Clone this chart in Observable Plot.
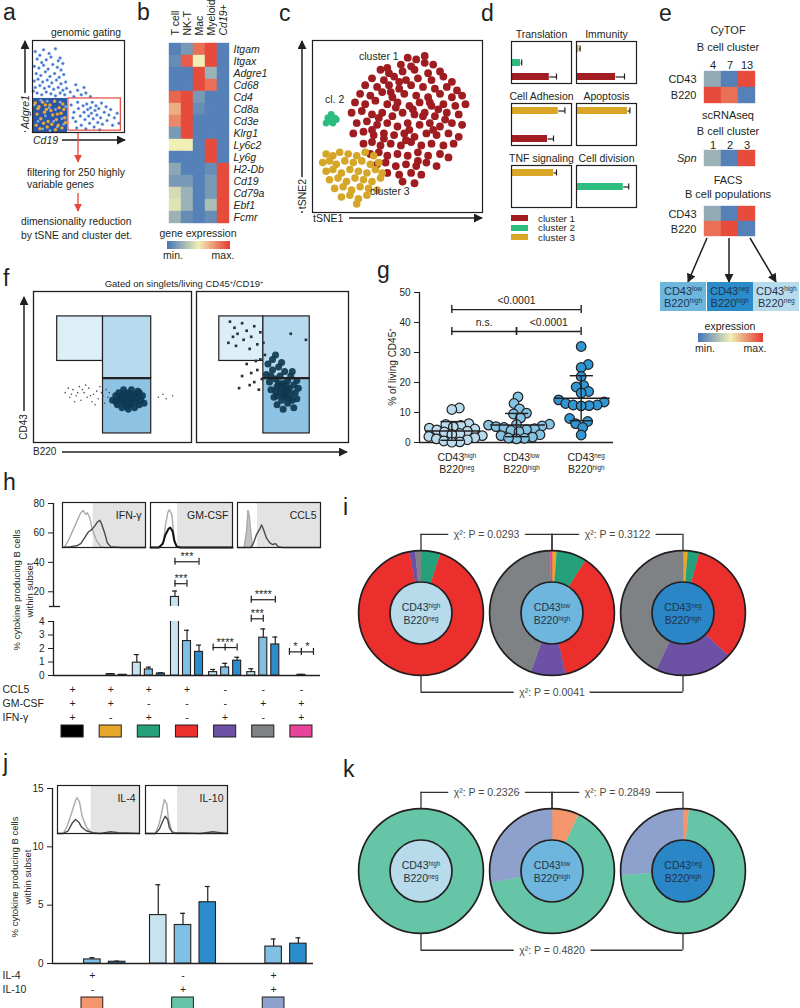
<!DOCTYPE html>
<html>
<head>
<meta charset="utf-8">
<script src="https://cdn.jsdelivr.net/npm/d3@7"></script>
<script src="https://cdn.jsdelivr.net/npm/@observablehq/plot@0.6"></script>
<style>
html,body{margin:0;padding:0;background:#fff;}
#root{position:relative;width:800px;height:1008px;overflow:hidden;background:#fff;font-family:"Liberation Sans",Arial,Helvetica,sans-serif;color:#231f20;}
#root sup{font-size:0.6em;line-height:0;vertical-align:0.6em;}
</style>
</head>
<body>
<div id="root"></div>
<script>
// ================= DATA =================
// panel a : genomic gating scatter (units 0-100)
const aDense = [[0, 38, 0, 37]];
const aGate = [[39, 96, 2, 37]];
const aBlueTop = [[3,88],[8,84],[12,90],[18,86],[25,91],[30,81],[5,80],[10,76],[15,79],[20,82],[28,78],[33,75],[2,72],[7,70],[12,73],[17,69],[22,74],[27,71],[31,68],[4,64],[9,62],[14,66],[19,61],[24,64],[29,60],[34,63],[2,56],[6,58],[11,55],[16,57],[21,54],[26,57],[31,53],[36,55],[3,49],[8,51],[13,48],[18,50],[23,47],[28,49],[33,46],[5,43],[10,41],[15,44],[20,42],[25,40],[30,43],[35,41],[1,45],[37,48],[41,44],[45,39],[49,46],[53,41],[58,43],[63,39],[47,52],[56,49]];
const aBlueGate = [[42,30],[45,22],[47,12],[49,33],[50,26],[52,18],[53,8],[55,29],[56,22],[57,14],[58,4],[59,31],[60,25],[61,18],[62,10],[63,27],[64,21],[65,33],[66,15],[67,6],[68,24],[69,29],[70,19],[71,11],[72,26],[74,16],[75,32],[76,9],[78,22],[80,28],[81,13],[83,19],[85,25],[87,8],[89,16],[92,21],[94,10],[48,5],[44,16],[73,3]];
const aOrange = [[3,32],[7,28],[11,33],[15,25],[19,30],[24,34],[29,27],[33,31],[5,20],[9,15],[13,22],[17,12],[22,19],[26,14],[31,21],[35,16],[4,8],[8,4],[12,10],[16,6],[21,9],[25,3],[28,8],[32,5],[36,11],[6,26],[20,24],[27,20],[14,30],[34,25]];
const aBlueDense = [[2,30],[9,35],[14,18],[18,27],[23,12],[30,33],[34,9],[6,12],[25,25],[11,4],[19,2],[32,15],[36,28],[27,6],[16,34]];

// panel b : heatmap
const bCols = ["T cell", "NK-T", "Mac", "Myeloid", "Cd19+"];
const bRows = ["Itgam","Itgax","Adgre1","Cd68","Cd4","Cd8a","Cd3e","Klrg1","Ly6c2","Ly6g","H2-Db","Cd19","Cd79a","Ebf1","Fcmr"];
const bValues = [
  [0.05,0.15,0.85,0.95,0.05],[0.1,0.9,0.5,0.95,0.05],[0.05,0.05,0.95,0.25,0.05],[0.05,0.05,0.95,0.85,0.05],
  [0.88,0.95,0.15,0.05,0.05],[0.68,0.95,0.1,0.05,0.05],[0.78,0.95,0.05,0.05,0.05],[0.15,0.95,0.05,0.05,0.05],
  [0.5,0.5,0.05,0.95,0.05],[0.05,0.05,0.05,0.95,0.05],[0.2,0.05,0.05,0.1,0.95],[0.15,0.15,0.05,0.15,0.95],
  [0.42,0.25,0.05,0.15,0.95],[0.45,0.25,0.05,0.3,0.95],[0.25,0.1,0.05,0.1,0.95]];

// panel c : tSNE
const c1 = [[56,90],[61,89],[66,91],[52,86],[58,85],[66,87],[71,86],[40,83],[45,81],[53,82],[60,83],[68,81],[75,82],
[35,78],[42,77],[48,79],[55,77],[62,78],[70,77],[77,79],[82,76],[31,74],[38,73],[45,74],[51,72],[58,74],[65,73],[72,72],[79,73],[85,71],
[28,69],[34,68],[41,70],[47,67],[54,69],[61,68],[68,67],[75,69],[82,67],[88,68],[25,64],[31,63],[37,65],[44,63],[50,64],[57,62],[63,64],[70,62],[77,63],[84,62],[90,63],
[23,58],[29,59],[35,57],[41,58],[47,56],[53,58],[60,57],[66,58],[72,56],[79,58],[86,57],[26,52],[32,53],[38,51],[44,52],[50,50],[56,52],[63,51],[69,52],[75,50],[82,52],[88,51],
[24,46],[30,47],[36,45],[42,46],[48,45],[54,46],[60,44],[67,46],[73,45],[80,46],[86,44],[30,40],[35,41],[40,39],[46,40],[52,39],[58,41],[64,39],[70,40],[77,39],[83,40],
[34,34],[39,35],[44,33],[50,34],[56,33],[62,35],[68,33],[75,34],[80,32],[38,28],[43,29],[49,27],[55,28],[61,27],[67,29],[73,27],[44,23],[51,22],[58,23],[64,22],[53,18],[60,17],
[46,70],[59,60],[39,55],[71,48],[55,42],[65,56],[44,84],[78,54],[35,48],[62,30],[49,61],[69,64],[57,48],[42,43],[74,60],[51,76]];
const c2 = [[9,55],[11,57],[13,55],[10,53],[12,52],[14,54],[8,52]];
const c3 = [[8,34],[12,33],[16,35],[21,34],[26,33],[31,35],[36,33],[6,29],[10,30],[14,28],[19,30],[24,29],[29,30],[34,28],[39,29],
[8,24],[12,25],[17,23],[22,25],[27,24],[32,23],[37,25],[41,23],[10,19],[15,20],[20,18],[25,20],[30,19],[35,18],[40,20],
[13,14],[18,15],[23,13],[28,15],[33,14],[38,13],[17,9],[22,10],[27,8],[32,10],[26,5]];

// panel d : enriched processes
const dProc = ["Translation","Immunity","Cell Adhesion","Apoptosis","TNF signaling","Cell division"];
const dClusters = ["cluster 3","cluster 2","cluster 1"];
const dClusterColors = {"cluster 1": "#a11d22", "cluster 2": "#2dbd7e", "cluster 3": "#d9a626"};
const dBarProcess = ["Translation","Translation","Immunity","Immunity","Cell Adhesion","Cell Adhesion","Apoptosis","TNF signaling","Cell division"];
const dBarCluster = ["cluster 2","cluster 1","cluster 3","cluster 1","cluster 3","cluster 1","cluster 3","cluster 3","cluster 2"];
const dBarValue = [0.15,0.63,0.04,0.65,0.78,0.6,0.85,0.7,0.78];
const dBarError = [0.02,0.12,0.02,0.15,0.11,0.1,0.04,0.05,0.09];

// panel e
const eCyCols = ["4","7","13"];
const eMarkers = ["CD43","B220"];
const eCyValues = [[0.22,0.05,0.95],[0.95,0.85,0.05]];
const eScCols = ["1","2","3"];
const eScValues = [[0.25,0.05,0.95]];
const eFacsCols = ["low","neg","high"];
const eFacsValues = [[0.22,0.05,0.95],[0.85,0.95,0.05]];
const eBoxLabels = ["CD43<sup>low</sup><br>B220<sup>high</sup>","CD43<sup>neg</sup><br>B220<sup>high</sup>","CD43<sup>high</sup><br>B220<sup>neg</sup>"];
const eBoxColors = ["#6db6de","#2a8ccb","#b7dbeb"];

// panel f : flow gates (units 0-100)
const fGateX1 = [15, 44, 44], fGateX2 = [44, 74.5, 74.5];
const fGateY1 = [54, 42.5, 6], fGateY2 = [83.5, 83.5, 42.5];
const fGateFill = ["#ddeef7", "#b7daee", "#8fc3e3"];
const fLeftCore = [[50,28],[52,31],[53,25],[54,33],[55,28],[56,23],[56,31],[57,35],[58,27],[58,30],[59,24],[60,33],[60,28],[61,31],[62,26],[62,35],[63,29],[64,23],[64,32],[65,27],[66,30],[67,25],[67,33],[68,28],[69,31],[70,26],[54,29],[57,32],[59,28],[61,25],[63,31],[65,29],[52,27],[66,34],[60,22],[57,26]];
const fLeftSparse = [[20,33],[23,30],[25,35],[27,31],[29,37],[30,28],[32,33],[34,30],[35,36],[37,27],[38,32],[40,34],[41,29],[42,37],[44,31],[45,26],[46,35],[47,30],[48,33],[26,27],[33,38],[39,25],[43,33],[36,31],[31,35],[28,33],[22,36],[24,32],[79,30],[82,32],[84,29],[88,31]];
const fRightCore = [[46,45],[48,40],[49,35],[50,48],[51,30],[52,42],[53,37],[53,25],[54,50],[55,33],[55,44],[56,28],[57,39],[57,22],[58,35],[58,47],[59,30],[60,41],[60,26],[61,36],[62,32],[62,44],[63,28],[64,38],[64,23],[65,33],[66,41],[66,29],[67,36],[52,34],[54,39],[56,36],[58,32],[59,38],[61,29],[57,31],[53,31],[55,38],[60,34],[47,52],[50,55],[52,58],[56,53],[49,44],[63,47]];
const fRightSparse = [[22,80],[25,76],[27,72],[30,79],[33,74],[36,70],[38,77],[42,73],[21,66],[26,64],[31,68],[35,62],[40,65],[24,70],[44,66],[62,72],[72,68],[33,52],[36,46],[38,40],[40,48],[42,55],[30,44],[28,36],[35,38],[39,54],[43,42],[45,58],[41,35]];

// panel g : % of living CD45+
const gCategories = ["CD43^{high}\nB220^{neg}", "CD43^{low}\nB220^{high}", "CD43^{neg}\nB220^{high}"];
const gFills = ["#b9dcec", "#84c3e4", "#2f97d3"];
const gHigh = [11.5,11,6.3,6,5.7,5.2,4.8,4.5,4.2,3.8,3.5,3,2.7,2.3,2,1.6,1.2,0.9,0.5,0.2,0.1];
const gLow = [15.2,13,11.2,9.8,9.5,8.2,6.1,6,5.8,5.5,5.3,5,4.6,4.3,4,3.6,2.6,2.3,1.8,1.4,1.2,1.5];
const gNeg = [32,26,25,22,19,18.5,17,16.5,14.2,13.5,13,12.5,12.5,12.3,12.2,8,7,6.3,5,2.5];
const gBrackets = [{a:0,b:2,y:44.3,label:"<0.0001"},{a:0,b:1,y:37,label:"n.s."},{a:1,b:2,y:37,label:"<0.0001"}];

// panel h : cytokine combinations
const subsetFills = ["#c6e3f0", "#7fc0e4", "#2b8dcb"];
const hCCL5  = ["+","+","+","+","-","-","-"];
const hGMCSF = ["+","+","-","-","-","+","+"];
const hIFNG  = ["+","-","+","-","+","-","+"];
const hColors = ["#000000","#e6a72b","#24a07a","#ea2f2d","#6d51a5","#7f8285","#e9449c"];
const hMeans = [[0,0,0],[0,0.1,0.05],[0.95,0.45,0.15],[16.5,2.55,1.75],[0.25,0.6,1.1],[0.25,2.8,2.3],[0,0.05,0]];
const hErr = [[0,0,0],[0,0.04,0.02],[0.6,0.17,0.05],[4,0.8,0.5],[0.2,0.3,0.25],[0.25,0.65,0.55],[0,0.03,0]];
const hSig = [
  {g:3,a:0,b:1,v:25.5,label:"***",seg:"top"},
  {g:3,a:0,b:2,v:40.4,label:"***",seg:"top"},
  {g:5,a:0,b:2,v:14.6,label:"****",seg:"top"},
  {g:5,a:0,b:1,v:4.2,label:"***",seg:"low"},
  {g:4,a:0,b:2,v:2.07,label:"****",seg:"low",mid:true},
  {g:6,a:0,b:1,v:1.75,label:"*",seg:"low"},
  {g:6,a:1,b:2,v:1.75,label:"*",seg:"low"}];
const hIfnGray = [[2,0],[7,16],[12,38],[17,60],[22,82],[25,87],[28,78],[30,82],[33,69],[36,42],[41,16],[46,2],[51,0],[100,0]];
const hIfnDark = [[0,0],[10,2],[17,4],[22,9],[27,24],[31,36],[35,42],[39,51],[42,60],[45,64],[47,56],[51,33],[54,11],[58,2],[70,0],[100,0]];
const hGmGray = [[0,0],[12,0],[16,16],[18,49],[21,82],[23,89],[26,78],[28,38],[30,9],[34,0],[100,0]];
const hGmDark = [[0,0],[10,0],[15,9],[18,29],[22,44],[24,47],[27,38],[29,16],[32,2],[37,0],[100,0]];
const hCclGray = [[8,0],[11,38],[12.6,87],[14,78],[16,38],[18,0]];
const hCclDark = [[0,0],[16,0],[19,9],[23,31],[27,44],[29,53],[31,44],[35,22],[39,11],[42,7],[46,9],[49,2],[54,0],[100,0]];

// panel i : proportions of combinations per subset
const iFractions = [[0,0,0.05,0.92,0.015,0.015,0],[0,0.012,0.078,0.375,0.09,0.44,0.005],[0,0.012,0.03,0.328,0.2,0.43,0]];
const subsetLabels = ["CD43^{high}\nB220^{neg}","CD43^{low}\nB220^{high}","CD43^{neg}\nB220^{high}"];
const subsetInner = ["#b7dbea","#6fb6de","#2a86c6"];
const iBrackets = [{a:0,b:1,side:"top",label:"χ²: P = 0.0293"},{a:1,b:2,side:"top",label:"χ²: P = 0.3122"},{a:0,b:2,side:"bottom",label:"χ²: P = 0.0041"}];

// panel j : IL-4 / IL-10
const jIL4 = ["+","-","+"];
const jIL10 = ["-","+","+"];
const jColors = ["#f4956b","#66c5a6","#8da1cc"];
const jMeans = [[0,0.35,0.15],[4.15,3.3,5.25],[0,1.45,1.7]];
const jErr = [[0,0.15,0.05],[2.6,1.0,1.35],[0,0.65,0.5]];
const jIl4Gray = [[0,0],[7,0],[12,17],[17,44],[22,73],[24,79],[27,69],[30,38],[35,15],[40,4],[46,0],[100,0]];
const jIl4Dark = [[0,0],[7,0],[13,6],[18,23],[22,31],[26,25],[29,15],[35,6],[43,2],[52,0],[65,4],[74,2],[100,0]];
const jIl10Gray = [[0,0],[12,0],[17,23],[21,58],[23,75],[26,65],[28,31],[32,6],[37,0],[100,0]];
const jIl10Dark = [[0,0],[12,0],[17,10],[21,27],[24,38],[27,31],[29,13],[33,2],[67,0],[82,4],[91,2],[100,0]];

// panel k
const kFractions = [[0,1,0],[0.07,0.65,0.28],[0.015,0.725,0.26]];
const kBrackets = [{a:0,b:1,side:"top",label:"χ²: P = 0.2326"},{a:1,b:2,side:"top",label:"χ²: P = 0.2849"},{a:0,b:2,side:"bottom",label:"χ²: P = 0.4820"}];

// ================= HELPERS =================
const INK = "#231f20";
const FONT = '"Liberation Sans", Arial, Helvetica, sans-serif';
const root = document.getElementById("root");
const HEAT = {type: "linear", domain: [0, 0.5, 1], range: ["#4575b8", "#f1efb5", "#e5392e"]};
const GRAD = "linear-gradient(to right,#4575b8,#f1efb5,#e5392e)";

function supify(node) {
  if (!node.querySelectorAll) return;
  node.querySelectorAll("text, tspan").forEach(el => {
    if (el.children.length) return;
    const s = el.textContent;
    if (!s.includes("^{")) return;
    el.textContent = "";
    const re = /\^\{([^}]*)\}/g; let last = 0, m;
    while ((m = re.exec(s))) {
      if (m.index > last) el.appendChild(document.createTextNode(s.slice(last, m.index)));
      const t = document.createElementNS("http://www.w3.org/2000/svg", "tspan");
      t.setAttribute("font-size", "0.6em");
      t.setAttribute("baseline-shift", "super");
      t.textContent = m[1];
      el.appendChild(t);
      last = re.lastIndex;
    }
    if (last < s.length) el.appendChild(document.createTextNode(s.slice(last)));
  });
}
function italicize(node, names) {
  const set = new Set(names);
  node.querySelectorAll("text").forEach(t => { if (set.has(t.textContent.trim())) t.setAttribute("font-style", "italic"); });
}
function put(node, left, top) {
  node.style.position = "absolute"; node.style.left = left + "px"; node.style.top = top + "px";
  root.appendChild(node); supify(node); return node;
}
function P(o) {
  const {fs = 10, ...rest} = o;
  return Plot.plot({...rest, style: {fontFamily: FONT, fontSize: fs + "px", color: INK, background: "transparent", overflow: "visible", maxWidth: "none"}});
}
function lab(html, x, y, o = {}) {
  const size = o.size ?? 10;
  const d = document.createElement("div");
  d.innerHTML = html;
  const ax = o.anchor === "middle" ? "-50%" : o.anchor === "end" ? "-100%" : "0";
  const ay = o.rotate ? "-50%" : "-0.846em";
  Object.assign(d.style, {position: "absolute", left: x + "px", top: y + "px", fontSize: size + "px", lineHeight: "1",
    whiteSpace: "nowrap", transformOrigin: "0 0", transform: `rotate(${o.rotate || 0}deg) translate(${ax}, ${ay})`,
    fontStyle: o.italic ? "italic" : "normal", color: o.color || INK, background: o.bg || "transparent",
    padding: o.bg ? "1px 2px" : "0"});
  root.appendChild(d);
  return d;
}
function box(x, y, w, h, css) {
  const d = document.createElement("div");
  Object.assign(d.style, {position: "absolute", left: x + "px", top: y + "px", width: w + "px", height: h + "px"}, css);
  root.appendChild(d); return d;
}
const px = d => d[0], py = d => d[1];

// ================= DECORATION ARROWS =================
const arrowsBlack = [[25,132,25,41],[62,140,125,140],[302,213,302,41],[349,218,482,218],[707,238,688,282],[729,238,729,282],[750,238,776,282],[24,411,24,297],[62,452,347,452]];
const arrowsRed = [[78,132,78,162],[78,193,78,211]];
root.insertAdjacentHTML("beforeend", `<svg xmlns="http://www.w3.org/2000/svg" width="800" height="1008" style="position:absolute;left:0;top:0">
<defs>
<marker id="ak" viewBox="0 0 10 10" refX="9" refY="5" markerWidth="6.5" markerHeight="6" orient="auto"><path d="M0,0L10,5L0,10Z" fill="${INK}"/></marker>
<marker id="ar" viewBox="0 0 10 10" refX="9" refY="5" markerWidth="6" markerHeight="6" orient="auto"><path d="M0,0L10,5L0,10Z" fill="#e8453c"/></marker>
</defs>
${arrowsBlack.map(a => `<line x1="${a[0]}" y1="${a[1]}" x2="${a[2]}" y2="${a[3]}" stroke="${INK}" stroke-width="1.5" marker-end="url(#ak)"/>`).join("")}
${arrowsRed.map(a => `<line x1="${a[0]}" y1="${a[1]}" x2="${a[2]}" y2="${a[3]}" stroke="#e8453c" stroke-width="1.3" marker-end="url(#ar)"/>`).join("")}
</svg>`);

// ================= PANEL a =================
put(P({
  width: 92, height: 92, margin: 0,
  x: {domain: [0, 100], axis: null}, y: {domain: [0, 100], axis: null},
  marks: [
    Plot.rect(aDense, {x1: d => d[0], x2: d => d[1], y1: d => d[2], y2: d => d[3], fill: "#2a56a5"}),
    Plot.dot(aBlueDense, {x: px, y: py, r: 1.4, fill: "#86abe2"}),
    Plot.dot(aOrange, {x: px, y: py, r: 1.7, fill: "#eaa63a"}),
    Plot.dot(aBlueTop.concat(aBlueGate), {x: px, y: py, r: 1.5, fill: "#3f72c8", stroke: "#a6c4ee", strokeWidth: 0.5}),
    Plot.rect(aGate, {x1: d => d[0], x2: d => d[1], y1: d => d[2], y2: d => d[3], fill: "none", stroke: "#e2483d", strokeWidth: 1.2}),
    Plot.frame({stroke: INK, strokeWidth: 1.2})
  ]
}), 32, 40);

// ================= PANEL b =================
const bData = bRows.flatMap((r, i) => bCols.map((c, j) => ({row: r, col: c, v: bValues[i][j]})));
const bPlot = put(P({
  fs: 10.5,
  width: 63 + 45, height: 39 + 188, marginTop: 39, marginLeft: 0, marginRight: 45, marginBottom: 0,
  x: {domain: bCols, padding: 0, axis: "top", tickSize: 0, tickRotate: -90, tickPadding: 4, label: null},
  y: {domain: bRows, padding: 0, axis: "right", tickSize: 0, tickPadding: 3, label: null},
  color: HEAT,
  marks: [Plot.cell(bData, {x: "col", y: "row", fill: "v", stroke: "v", strokeWidth: 0.4})]
}), 167, 0);
italicize(bPlot, bRows.concat(["Cd19+"]));

// ================= PANEL c =================
put(P({
  width: 170, height: 172, margin: 0,
  x: {domain: [0, 100], axis: null}, y: {domain: [0, 100], axis: null},
  marks: [
    Plot.dot(c1, {x: px, y: py, r: 3.9, fill: "#9f1c21"}),
    Plot.dot(c2, {x: px, y: py, r: 3.4, fill: "#2dbd7e"}),
    Plot.dot(c3, {x: px, y: py, r: 3.8, fill: "#d6a628"}),
    Plot.frame({stroke: INK, strokeWidth: 1.2})
  ]
}), 312, 40);

// ================= PANEL d =================
const dBars = dBarProcess.map((p, i) => ({process: p, cluster: dBarCluster[i], value: dBarValue[i], err: dBarError[i] + dBarValue[i]}));
const fxOf = d => dProc.indexOf(d.process ?? d) % 2;
const fyOf = d => Math.floor(dProc.indexOf(d.process ?? d) / 2);
put(P({
  width: 125, height: 167, margin: 0,
  fx: {domain: [0, 1], paddingInner: 0.077, paddingOuter: 0, axis: null},
  fy: {domain: [0, 1, 2], paddingInner: 0.328, paddingOuter: 0, axis: null},
  x: {domain: [0, 1], axis: null},
  y: {domain: dClusters, paddingInner: 0.5, paddingOuter: 0.25, axis: null},
  marks: [
    Plot.barX(dBars, {fx: fxOf, fy: fyOf, y: "cluster", x1: 0, x2: "value", fill: d => dClusterColors[d.cluster]}),
    Plot.link(dBars, {fx: fxOf, fy: fyOf, x1: "value", x2: "err", y1: "cluster", y2: "cluster", stroke: INK, strokeWidth: 1.2}),
    Plot.tickX(dBars, {fx: fxOf, fy: fyOf, x: "err", y: "cluster", stroke: INK, strokeWidth: 1.2, insetTop: 0.5, insetBottom: 0.5}),
    Plot.text(dProc, {fx: fxOf, fy: fyOf, text: d => d, frameAnchor: "top", lineAnchor: "bottom", dy: -4, fontSize: 10.5}),
    Plot.frame({stroke: INK, strokeWidth: 1.2})
  ]
}), 511, 40);
["cluster 1", "cluster 2", "cluster 3"].forEach((c, i) => {
  box(511, 215 + i * 9.5, 17, 6, {background: dClusterColors[c]});
  lab(c, 538, 221.5 + i * 9.5, {size: 9.8});
});

// ================= PANEL e =================
function heat(cols, rows, values, w, h, showCols, italicRows) {
  const data = rows.flatMap((r, i) => cols.map((c, j) => ({r, c, v: values[i][j]})));
  const p = P({
    fs: 11,
    width: 40 + w, height: 12 + h, marginLeft: 40, marginTop: 12, marginRight: 0, marginBottom: 0,
    x: {domain: cols, padding: 0, axis: showCols ? "top" : null, tickSize: 0, tickPadding: 2, label: null},
    y: {domain: rows, padding: 0, axis: "left", tickSize: 0, tickPadding: 8, label: null},
    color: HEAT,
    marks: [Plot.cell(data, {x: "c", y: "r", fill: "v", stroke: "v", strokeWidth: 0.4})]
  });
  if (italicRows) italicize(p, rows);
  return p;
}
put(heat(eCyCols, eMarkers, eCyValues, 51, 33, true, false), 664, 58);
put(heat(eScCols, ["Spn"], eScValues, 51, 16, true, true), 664, 138);
put(heat(eFacsCols, eMarkers, eFacsValues, 51, 31, false, false), 664, 193);
lab("CyTOF", 728, 34, {anchor: "middle", size: 11});
lab("B cell cluster", 728, 51, {anchor: "middle", size: 11});
lab("scRNAseq", 728, 119, {anchor: "middle", size: 11});
lab("B cell cluster", 728, 135, {anchor: "middle", size: 11});
lab("FACS", 728, 184, {anchor: "middle", size: 11});
lab("B cell populations", 728, 198, {anchor: "middle", size: 11});
eBoxLabels.forEach((t, i) => {
  const b = box(660 + i * 46.7, 282, 46, 29, {background: eBoxColors[i], fontSize: "11px", lineHeight: "12px", textAlign: "center", color: "#1f3550", paddingTop: "3px", boxSizing: "border-box"});
  b.innerHTML = t;
});
lab("expression", 730, 330, {anchor: "middle", size: 10.5});
box(698, 333, 65, 9, {background: GRAD});
lab("min.", 705, 352, {anchor: "middle", size: 10.5});
lab("max.", 755, 352, {anchor: "middle", size: 10.5});

// ================= PANEL f =================
function fPlot(w, core, sparse, coreStyle, sparseStyle) {
  const gi = d3.range(fGateFill.length);
  return P({
    width: w, height: 151, margin: 0,
    x: {domain: [0, 100], axis: null}, y: {domain: [0, 100], axis: null},
    marks: [
      Plot.rect(gi, {x1: i => fGateX1[i], x2: i => fGateX2[i], y1: i => fGateY1[i], y2: i => fGateY2[i], fill: i => fGateFill[i], stroke: INK, strokeWidth: 1.2}),
      Plot.dot(sparse, {x: px, y: py, ...sparseStyle}),
      Plot.dot(core, {x: px, y: py, ...coreStyle}),
      Plot.ruleY([fGateY2[2]], {x1: fGateX1[2], x2: fGateX2[2], stroke: INK, strokeWidth: 2}),
      Plot.frame({stroke: INK, strokeWidth: 1.3})
    ]
  });
}
put(fPlot(158, fLeftCore, fLeftSparse, {r: 3.4, fill: "#0d3a54", fillOpacity: 0.92}, {r: 0.8, fill: "#4a5560"}), 33, 291);
put(fPlot(152, fRightCore, fRightSparse, {r: 3.5, fill: "#10394f", fillOpacity: 0.92}, {r: 1.5, symbol: "square", fill: "#26323c"}), 196, 291);
lab("Gated on singlets/living CD45<sup>+</sup>/CD19<sup>+</sup>", 184, 287, {anchor: "middle", size: 9.5});

// ================= PANEL g =================
function swarm(vals, minDist, pxPerUnit) {
  const order = vals.map((v, i) => i).sort((a, b) => vals[a] - vals[b]);
  const placed = [], off = [];
  for (const i of order) {
    const y = vals[i] * pxPerUnit;
    for (let k = 0; k < 600; k++) {
      const c = k === 0 ? 0 : (k % 2 ? 1 : -1) * Math.ceil(k / 2) * 0.5;
      if (placed.every(p => (p[0] - c) ** 2 + (p[1] - y) ** 2 >= minDist ** 2)) { placed.push([c, y]); off[i] = c; break; }
    }
  }
  return off;
}
const gGroups = [gHigh, gLow, gNeg];
const gPxPerX = 194 / 3;
const gPoints = gGroups.flatMap((vals, gi) => { const off = swarm(vals, 7.6, 3); return vals.map((v, j) => ({x: gi + off[j] / gPxPerX, y: v, gi})); });
const gStats = gGroups.map((vals, i) => { const m = d3.mean(vals), s = d3.deviation(vals); return {i, mean: m, lo: Math.max(0, m - s), hi: m + s}; });
const gEnds = gBrackets.flatMap(b => [{x: b.a, y: b.y}, {x: b.b, y: b.y}]);
put(P({
  width: 39 + 194 + 10, height: 10 + 150 + 45, marginLeft: 39, marginRight: 10, marginTop: 10, marginBottom: 45,
  x: {domain: [-0.5, 2.5], axis: null},
  y: {domain: [0, 50], ticks: [0, 10, 20, 30, 40, 50], tickSize: 5, tickFormat: "d", label: null},
  marks: [
    Plot.ruleX([-0.5], {strokeWidth: 1.3}),
    Plot.ruleY([0], {strokeWidth: 1.3}),
    Plot.dot(gPoints, {x: "x", y: "y", r: 4.8, fill: d => gFills[d.gi], stroke: INK, strokeWidth: 1.2}),
    Plot.ruleY(gStats, {x1: d => d.i - 0.4, x2: d => d.i + 0.45, y: "mean", strokeWidth: 1.6}),
    Plot.ruleX(gStats, {x: "i", y1: "lo", y2: "hi", strokeWidth: 1.4}),
    Plot.ruleY(gStats, {x1: d => d.i - 0.17, x2: d => d.i + 0.19, y: "hi", strokeWidth: 1.4}),
    Plot.ruleY(gStats, {x1: d => d.i - 0.17, x2: d => d.i + 0.19, y: "lo", strokeWidth: 1.4}),
    Plot.ruleY(gBrackets, {x1: "a", x2: "b", y: "y", strokeWidth: 1.4}),
    Plot.ruleX(gEnds, {x: "x", y1: "y", y2: "y", insetTop: -4, insetBottom: -4, strokeWidth: 1.4}),
    Plot.text(gBrackets, {x: d => (d.a + d.b) / 2, y: "y", text: "label", dy: -9, fontSize: 10.5}),
    Plot.text(gCategories, {x: (d, i) => i, y: () => 0, text: d => d, dy: 21, dx: 5, fontSize: 10.5, lineHeight: 1.15})
  ]
}), 380, 282);
lab("% of living CD45<sup>+</sup>", 393, 367, {rotate: -90, anchor: "middle", size: 10});

// ================= PANEL h =================
const hBars = [];
hMeans.forEach((row, g) => row.forEach((v, s) => hBars.push({g, s, v, e: hErr[g][s], cx: g + (s - 1) * 0.315})));
const HW = 0.105;
const hX = {domain: [-0.5, 6.5], axis: null};
function sigMarks(list) {
  const segs = list.map(d => ({...d, xa: d.g + (d.a - 1) * 0.315, xb: d.g + (d.b - 1) * 0.315}));
  const ends = segs.flatMap(d => [{x: d.xa, v: d.v}, {x: d.xb, v: d.v}].concat(d.mid ? [{x: (d.xa + d.xb) / 2, v: d.v}] : []));
  return [
    Plot.ruleY(segs, {x1: "xa", x2: "xb", y: "v", strokeWidth: 1.2}),
    Plot.ruleX(ends, {x: "x", y1: "v", y2: "v", insetTop: -3.5, insetBottom: -3.5, strokeWidth: 1.2}),
    Plot.text(segs, {x: d => (d.xa + d.xb) / 2, y: "v", text: "label", dy: -5, fontSize: 11})
  ];
}
function barMarks(bars, hw, lo, hi, clampTop, clampBottom) {
  const vis = bars.filter(d => d.v > 0 && d.v > lo);
  const errs = bars.filter(d => d.e > 0 && d.v > lo && d.v <= hi);
  return [
    Plot.rectY(vis, {x1: d => d.cx - hw, x2: d => d.cx + hw, y1: clampBottom, y2: d => Math.min(d.v, clampTop), fill: d => subsetFills[d.s], stroke: INK, strokeWidth: 1.1, clip: true}),
    Plot.ruleX(errs, {x: "cx", y1: "v", y2: d => d.v + d.e, strokeWidth: 1.2}),
    Plot.ruleY(errs, {x1: "cx", x2: "cx", y: d => d.v + d.e, insetLeft: -2.5, insetRight: -2.5, strokeWidth: 1.2})
  ];
}
put(P({
  width: 320, height: 108, marginLeft: 53, marginRight: 0, marginTop: 5, marginBottom: 0,
  x: hX, y: {domain: [10, 80], ticks: [20, 40, 60, 80], tickSize: 5, tickFormat: "d", label: null},
  marks: [
    Plot.ruleX([-0.5], {strokeWidth: 1.3}),
    Plot.ruleY([10], {x1: -0.5, x2: -0.5, insetLeft: -4, insetRight: -7, strokeWidth: 1.3}),
    ...barMarks(hBars, HW, 10, 1000, 1000, 9),
    ...sigMarks(hSig.filter(d => d.seg === "top"))
  ]
}), 0, 498);
put(P({
  width: 320, height: 59, marginLeft: 53, marginRight: 0, marginTop: 5, marginBottom: 0,
  x: hX, y: {domain: [0, 4], ticks: [0, 1, 2, 3, 4], tickSize: 5, tickFormat: "d", label: null},
  marks: [
    Plot.ruleX([-0.5], {strokeWidth: 1.3}),
    Plot.ruleY([0], {strokeWidth: 1.3}),
    ...barMarks(hBars, HW, -1, 4, 4.6, 0),
    ...sigMarks(hSig.filter(d => d.seg === "low"))
  ]
}), 0, 616);
const hRows = ["CCL5", "GM-CSF", "IFN-γ"];
const hSigns = hColors.flatMap((c, g) => [{g, row: "CCL5", t: hCCL5[g]}, {g, row: "GM-CSF", t: hGMCSF[g]}, {g, row: "IFN-γ", t: hIFNG[g]}]);
put(P({
  width: 320, height: 56, marginLeft: 53, marginRight: 0, marginTop: 0, marginBottom: 0,
  x: hX, y: {domain: [...hRows, "swatch"], padding: 0, axis: null},
  marks: [
    Plot.text(hRows, {y: d => d, frameAnchor: "left", dx: -51, textAnchor: "start", fontSize: 10.5}),
    Plot.text(hSigns, {x: "g", y: "row", text: "t", fontSize: 10.5}),
    Plot.barX(d3.range(hColors.length), {x1: d => d - 0.29, x2: d => d + 0.29, y: () => "swatch", fill: d => hColors[d], stroke: INK, strokeWidth: 1, insetTop: 1, insetBottom: 1})
  ]
}), 0, 682);
function inset(w, h, gateStart, gray, dark, name, opts = {}) {
  return P({
    width: w, height: h, margin: 0,
    x: {domain: [0, 100], axis: null}, y: {domain: [0, 106], axis: null},
    marks: [
      Plot.rect([gateStart], {x1: d => d, x2: () => 100, y1: () => 0, y2: () => 106, fill: "#e3e3e3"}),
      opts.grayFill ? Plot.areaY(gray, {x: px, y: py, fill: "#c4c4c4"}) : null,
      Plot.line(gray, {x: px, y: py, stroke: "#aaaaaa", strokeWidth: 1.4}),
      Plot.line(dark, {x: px, y: py, stroke: opts.darkColor || "#4a4a4a", strokeWidth: opts.darkWidth || 1.4}),
      Plot.text([name], {frameAnchor: "top-right", dx: -4, dy: 9, text: d => d, fontSize: 10.5}),
      Plot.frame({stroke: INK, strokeWidth: 1.2})
    ]
  });
}
put(inset(83, 45, 37, hIfnGray, hIfnDark, "IFN-γ"), 62, 502);
put(inset(82, 45, 33, hGmGray, hGmDark, "GM-CSF", {darkColor: "#111", darkWidth: 2}), 150, 502);
put(inset(83, 45, 24, hCclGray, hCclDark, "CCL5", {grayFill: true}), 237, 502);
lab("% cytokine producing B cells", 17, 590, {rotate: -90, anchor: "middle", size: 9.5});
lab("within subset", 30, 590, {rotate: -90, anchor: "middle", size: 9.5});

// ================= DONUTS (i, k) =================
function donut(fracs, colors, brackets) {
  const S = 2.1, R1 = 1, R0 = 0.45;
  const pts = [];
  fracs.forEach((fr, d) => {
    const tot = d3.sum(fr); let acc = 0;
    fr.forEach((f, k) => {
      if (f <= 0) return;
      const t0 = acc / tot, t1 = (acc + f) / tot; acc += f;
      const n = Math.max(2, Math.ceil((t1 - t0) * 180));
      const key = d + "-" + k;
      for (let j = 0; j <= n; j++) { const a = 2 * Math.PI * (t0 + (t1 - t0) * j / n); pts.push({key, c: colors[k], x: d * S + R1 * Math.sin(a), y: R1 * Math.cos(a)}); }
      for (let j = n; j >= 0; j--) { const a = 2 * Math.PI * (t0 + (t1 - t0) * j / n); pts.push({key, c: colors[k], x: d * S + R0 * Math.sin(a), y: R0 * Math.cos(a)}); }
    });
  });
  const centers = subsetLabels.map((l, d) => ({x: d * S, y: 0, label: l, fill: subsetInner[d]}));
  const br = brackets.map(b => ({...b, xa: b.a * S, xb: b.b * S, yb: b.side === "top" ? 1.26 : -1.27, y0: b.side === "top" ? 1 : -1}));
  const ends = br.flatMap(b => [{x: b.xa, y0: b.y0, yb: b.yb}, {x: b.xb, y0: b.y0, yb: b.yb}]);
  return P({
    width: 393, height: 181, margin: 0,
    x: {domain: [-1.05, 5.25], axis: null}, y: {domain: [-1.45, 1.45], axis: null},
    marks: [
      Plot.line(pts, {x: "x", y: "y", z: "key", fill: "c", stroke: "c", strokeWidth: 0.6}),
      Plot.dot(centers, {x: "x", y: "y", r: 62.4, fill: "none", stroke: INK, strokeWidth: 1.7}),
      Plot.dot(centers, {x: "x", y: "y", r: 31, fill: "fill", stroke: INK, strokeWidth: 1.7}),
      Plot.text(centers, {x: "x", y: "y", text: "label", fontSize: 10.5, lineHeight: 1.25, fill: "#223446"}),
      Plot.ruleX(ends, {x: "x", y1: "y0", y2: "yb", strokeWidth: 1.3, stroke: "#333"}),
      Plot.ruleY(br, {x1: "xa", x2: "xb", y: "yb", strokeWidth: 1.3, stroke: "#333"}),
      Plot.text(br, {x: d => (d.xa + d.xb) / 2, y: "yb", text: "label", fontSize: 10.5, fill: "#4a4a4a", stroke: "white", strokeWidth: 12})
    ]
  });
}
put(donut(iFractions, hColors, iBrackets), 354.5, 521.5);
put(donut(kFractions, jColors, kBrackets), 354.5, 779.5);

// ================= PANEL j =================
const jBars = [];
jMeans.forEach((row, g) => row.forEach((v, s) => jBars.push({g, s, v, e: jErr[g][s], cx: g + (s - 1) * 0.273})));
const jX = {domain: [-0.44, 2.44], axis: null};
put(P({
  width: 313, height: 180, marginLeft: 52, marginRight: 0, marginTop: 5, marginBottom: 0,
  x: jX, y: {domain: [0, 15], ticks: [0, 5, 10, 15], tickSize: 5, tickFormat: "d", label: null},
  marks: [
    Plot.ruleX([-0.44], {strokeWidth: 1.3}),
    Plot.ruleY([0], {strokeWidth: 1.3}),
    ...barMarks(jBars, 0.091, -1, 100, 100, 0)
  ]
}), 0, 783);
const jRows = ["IL-4", "IL-10"];
const jSigns = jColors.flatMap((c, g) => [{g, row: "IL-4", t: jIL4[g]}, {g, row: "IL-10", t: jIL10[g]}]);
put(P({
  width: 313, height: 42, marginLeft: 52, marginRight: 0, marginTop: 0, marginBottom: 0,
  x: jX, y: {domain: [...jRows, "swatch"], padding: 0, axis: null},
  marks: [
    Plot.text(jRows, {y: d => d, frameAnchor: "left", dx: -50, textAnchor: "start", fontSize: 10.5}),
    Plot.text(jSigns, {x: "g", y: "row", text: "t", fontSize: 10.5}),
    Plot.barX(d3.range(jColors.length), {x1: d => d - 0.12, x2: d => d + 0.12, y: () => "swatch", fill: d => jColors[d], stroke: INK, strokeWidth: 1, insetTop: 1, insetBottom: 0})
  ]
}), 0, 968);
put(inset(82, 48, 41, jIl4Gray, jIl4Dark, "IL-4"), 57, 785);
put(inset(82, 48, 39, jIl10Gray, jIl10Dark, "IL-10"), 145, 785);
lab("% cytokine producing B cells", 15, 877, {rotate: -90, anchor: "middle", size: 9.5});
lab("within subset", 28, 877, {rotate: -90, anchor: "middle", size: 9.5});

// ================= TEXT LABELS =================
[["a",3,20],["b",137,20],["c",279,21],["d",481,21],["e",659,21],["f",3,286],["g",377,278],["h",3,490],["i",343,515],["j",3,771],["k",343,777]]
  .forEach(([t, x, y]) => lab(t, x, y, {size: 23}));
lab("genomic gating", 86, 37, {anchor: "middle", size: 10.3});
lab("Adgre1", 25, 112, {rotate: -90, anchor: "middle", italic: true, bg: "#fff", size: 10.5});
lab("Cd19", 33, 144, {italic: true, size: 10.5});
lab("filtering for 250 highly", 27, 177, {size: 10.3});
lab("variable genes", 27, 189, {size: 10.3});
lab("dimensionality reduction", 21, 226, {size: 10.3});
lab("by tSNE and cluster det.", 21, 240, {size: 10.3});
lab("gene expression", 198, 237, {anchor: "middle", size: 10.5});
box(167, 241, 63, 8, {background: GRAD});
lab("min.", 173, 259, {anchor: "middle", size: 10.5});
lab("max.", 223, 259, {anchor: "middle", size: 10.5});
lab("cluster 1", 359, 60, {size: 10.5});
lab("cl. 2", 325, 103, {size: 10.5});
lab("cluster 3", 370, 195, {size: 10.5});
lab("tSNE2", 302, 194, {rotate: -90, anchor: "middle", bg: "#fff", size: 10.5});
lab("tSNE1", 313, 222, {size: 10.5});
lab("CD43", 24, 427, {rotate: -90, anchor: "middle", bg: "#fff", size: 10});
lab("B220", 33, 455, {size: 10});
</script>
</body>
</html>
